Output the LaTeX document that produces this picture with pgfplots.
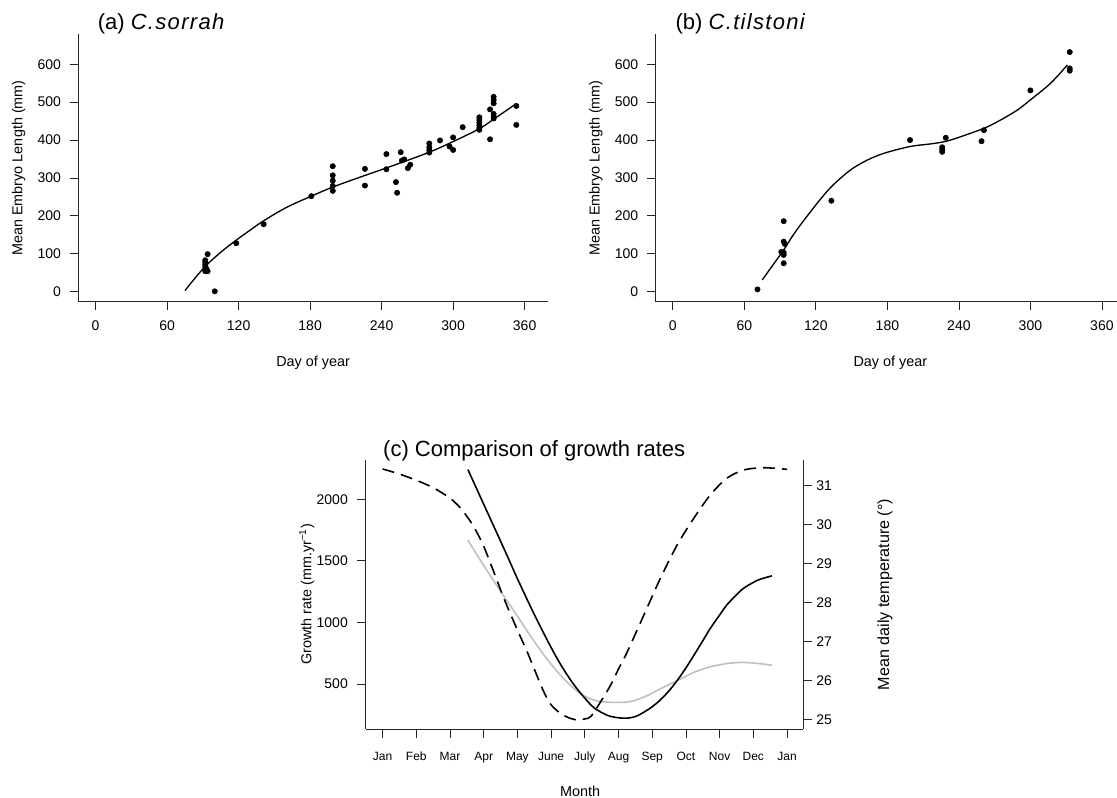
\documentclass[border=0pt]{standalone}
\usepackage{fontspec}
\setmainfont{Liberation Sans}
\newfontfamily\titlefont{Liberation Sans}[LetterSpace=6]
\usepackage{pgfplots}
\pgfplotsset{compat=1.18}

\newcommand{\tickfont}{\fontsize{10.5}{12.5}\selectfont}
\newcommand{\labfont}{\fontsize{10.8}{13}\selectfont}

\pgfplotsset{
  base/.style={
    scale only axis,
    axis line style={black!85, line width=0.6pt},
    tick style={black!85, line width=0.6pt},
    tick align=outside,
    major tick length=6.4pt,
    /pgf/number format/assume math mode=true,
    /pgf/number format/1000 sep={},
    clip=false,
  },
  growth/.style={base, width=352.35pt, height=200.55pt,
    xmin=-14.6, xmax=379.6, ymin=-26.4, ymax=679,
    axis x line*=bottom, axis y line*=left,
    xtick={0,60,...,360}, ytick={0,100,...,600},
    xticklabel style={font=\tickfont, yshift=-4pt},
    yticklabel style={font=\tickfont, xshift=-3pt},
    xlabel={Day of year}, ylabel={Mean Embryo Length (mm)},
    every axis x label/.style={at={(axis description cs:0.5,-0.229)}, anchor=center, font=\labfont},
    every axis y label/.style={at={(axis description cs:-0.1267,0.5)}, anchor=center, rotate=90, font=\labfont},
  },
}

\begin{document}
\begin{tikzpicture}
% ---------------- (a) C. sorrah
\begin{axis}[growth, at={(58.65pt,371.475pt)}, anchor=south west]
\addplot[black, line width=1pt, smooth, tension=0.6] coordinates {
(75,3) (84,38) (93,70) (105,104) (118,136) (130,163) (141,187) (160,222)
(181,252) (199,276) (220,300) (240,322) (256,340) (280,368) (300,396)
(322,430) (334,455) (352,494)};
\addplot[only marks, mark=*, mark size=2pt, black] coordinates {
(94,99) (92,83) (92,78) (92,72) (92,66) (93,60) (92,54) (94,54) (100,1)
(118,128) (141,178) (181,252)
(199,331) (199,307) (199,293) (199,279) (199,266)
(226,324) (226,280) (244,363) (244,323) (252,289) (253,261)
(256,368) (257,346) (259,349) (262,326) (264,335)
(280,391) (280,381) (280,374) (280,367) (289,399) (297,383) (300,374) (300,407)
(308,434) (322,460) (322,453) (322,446) (322,439) (322,432) (322,427)
(331,402) (331,481) (334,514) (334,506) (334,497) (334,469) (334,462) (334,457)
(353,490) (353,440)};
\end{axis}

% ---------------- (b) C. tilstoni
\begin{axis}[growth, at={(491.6pt,371.475pt)}, anchor=south west]
\addplot[black, line width=1pt, smooth, tension=0.5] coordinates {
(75,31) (85,75) (93,110) (100,145) (107,176) (121,233) (133,277) (149,321)
(163,347) (177,365) (199,383) (219,391) (233,400) (261,431) (275,453)
(289,479) (300,506) (317,550) (331,598)};
\addplot[only marks, mark=*, mark size=2pt, black] coordinates {
(71,6) (93,186) (93,132) (94,126) (91,105) (93,103) (93,97) (93,75)
(133,240) (199,400) (226,381) (226,375) (226,369) (229,406)
(259,397) (261,426) (300,531) (333,632) (333,589) (333,583)};
\end{axis}

% ---------------- (c) growth rates
\begin{axis}[base, width=328.1pt, height=201.75pt, at={(274.3pt,51pt)}, anchor=south west,
  xmin=-0.5, xmax=12.48, ymin=134, ymax=2319,
  axis x line*=bottom, axis y line*=left,
  xtick={0,...,12},
  xticklabels={Jan,Feb,Mar,Apr,May,June,July,Aug,Sep,Oct,Nov,Dec,Jan},
  xticklabel style={font=\fontsize{9}{11}\selectfont, yshift=-7.5pt},
  yticklabel style={font=\tickfont, xshift=-3.5pt},
  ytick={500,1000,1500,2000},
  xlabel={Month}, ylabel={Growth rate (mm.yr\textsuperscript{−1})},
  every axis x label/.style={at={(axis description cs:0.49,-0.2305)}, anchor=center, font=\labfont},
  every axis y label/.style={at={(axis description cs:-0.1346,0.5)}, anchor=center, rotate=90, font=\labfont},
]
\addplot[black!25, line width=1.2pt, smooth, tension=0.5] coordinates {
(2.53,1669) (2.75,1570) (3.0,1462) (3.3,1336) (3.6,1212) (3.8,1132) (4.0,1050)
(4.29,930) (4.5,845) (4.78,738) (5.0,660) (5.28,570) (5.5,508) (5.78,440)
(6.0,400) (6.28,368) (6.5,356) (6.77,351) (7.0,350) (7.26,353) (7.5,368)
(7.75,393) (8.0,425) (8.24,460) (8.5,495) (8.74,527) (9.0,562) (9.23,594)
(9.5,620) (9.72,640) (10.0,655) (10.21,666) (10.5,673) (10.7,675) (11.0,670)
(11.25,663) (11.55,652)};
\addplot[black, line width=1.2pt, smooth, tension=0.5] coordinates {
(2.53,2242) (2.75,2110) (3.0,1960) (3.3,1780) (3.6,1600) (3.8,1478) (4.0,1355)
(4.5,1065) (5.0,796) (5.3,650) (5.57,535) (5.8,450) (6.0,385) (6.28,305)
(6.67,245) (7.0,225) (7.26,222) (7.5,235) (7.75,270) (8.0,315) (8.24,370)
(8.5,445) (8.74,527) (9.0,630) (9.23,730) (9.5,850) (9.72,950) (10.0,1060)
(10.21,1140) (10.5,1225) (10.7,1275) (11.0,1325) (11.2,1350) (11.55,1378)};
\end{axis}
\begin{axis}[base, width=328.1pt, height=201.75pt, at={(274.3pt,51pt)}, anchor=south west,
  xmin=-0.5, xmax=12.48, ymin=24.76, ymax=31.66,
  axis x line=none, axis y line*=right,
  ytick={25,...,31},
  yticklabel style={font=\tickfont},
  ylabel={Mean daily temperature (°)},
  every axis y label/.style={at={(axis description cs:1.187,0.5)}, anchor=center, rotate=90, font=\fontsize{12.1}{14}\selectfont},
]
\addplot[black, line width=1.2pt, dash pattern=on 9pt off 5.25pt, smooth, tension=0.5] coordinates {
(0,31.43) (0.5,31.3) (1,31.14) (1.5,30.95) (2,30.68) (2.32,30.42) (2.61,30.08)
(2.8,29.8) (3,29.45) (3.3,28.79) (3.6,28.11) (4,27.3) (4.29,26.74) (4.49,26.32)
(4.78,25.72) (5,25.38) (5.28,25.16) (5.52,25.05) (5.78,24.99) (6.0,25.02)
(6.18,25.08) (6.47,25.46) (6.77,25.89) (7.0,26.3) (7.26,26.74) (7.75,27.68)
(8.24,28.62) (8.74,29.48) (9.23,30.16) (9.72,30.76) (10.21,31.19) (10.7,31.4)
(11.2,31.46) (11.6,31.45) (12,31.42)};
\end{axis}

% titles
\node[anchor=base west, font=\fontsize{16.5}{19}\selectfont] at (69.8pt,575.6pt) {(a) {\titlefont\itshape C.sorrah}};
\node[anchor=base west, font=\fontsize{16.5}{19}\selectfont] at (503.2pt,575.6pt) {(b) {\titlefont\itshape C.tilstoni}};
\node[anchor=base west, font=\fontsize{16.5}{19}\selectfont] at (283.9pt,255pt) {(c) Comparison of growth rates};

\pgfresetboundingbox
\path[use as bounding box] (0,0) rectangle (837.75pt,597.75pt);
\end{tikzpicture}
\end{document}
